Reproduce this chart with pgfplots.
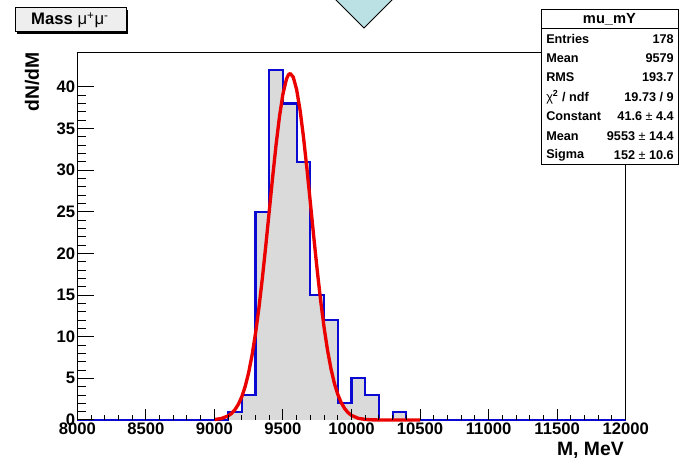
\documentclass[border=0pt]{standalone}
\usepackage{pgfplots}
\pgfplotsset{compat=1.18}
\usepackage{pgfplotstable}
\usepackage{fontspec}
\setmainfont{Liberation Sans}
\definecolor{histblue}{RGB}{10,10,210}
\definecolor{histfill}{RGB}{218,218,218}
\definecolor{fitred}{RGB}{235,0,0}
\definecolor{tri}{RGB}{187,225,229}
\definecolor{titlefill}{RGB}{238,238,238}

\pgfplotstableread{
x y
8000 0
9100 1
9200 3
9300 25
9400 42
9500 38
9600 31
9700 15
9800 12
9900 2
10000 5
10100 3
10200 0
10300 1
10400 0
12000 0
}\hist

\pgfplotstableread{
x y
9000 0.056
9050 0.174
9100 0.490
9125 0.790
9150 1.238
9175 1.889
9200 2.804
9225 4.056
9250 5.705
9275 7.812
9300 10.411
9325 13.505
9350 17.053
9375 20.955
9400 25.067
9425 29.181
9450 33.066
9475 36.468
9500 39.146
9525 40.900
9540 41.448
9553 41.600
9575 41.167
9600 39.658
9625 37.185
9650 33.936
9675 30.145
9700 26.062
9725 21.931
9750 17.961
9775 14.318
9800 11.110
9825 8.390
9850 6.166
9875 4.411
9900 3.072
9925 2.082
9950 1.374
9975 0.882
10000 0.551
10050 0.198
10100 0.064
10150 0.019
10200 0.005
10300 0.000
10500 0.000
}\fit

\pgfplotsset{
  myax/.style={
    at={(57.98pt,32.25pt)}, anchor=south west,
    scale only axis, width=411.3pt, height=275.5pt,
    xmin=8000, xmax=12000, ymin=0, ymax=44.1,
    scaled x ticks=false, scaled y ticks=false,
    tick align=inside,
    tick style={black, line width=0.75pt},
    /pgf/number format/assume math mode=true,
    /pgf/number format/1000 sep={},
    ticklabel style={font=\fontsize{12.5}{15}\selectfont\bfseries},
  }
}

\begin{document}
\begin{tikzpicture}
\path[use as bounding box] (0pt,0pt) rectangle (509.25pt,347.25pt);

% main data axis
\begin{axis}[myax, xtick=\empty, ytick=\empty,
  axis line style={black, line width=0.75pt}, clip=false]
  \addplot[const plot mark left, draw=histblue, line width=1.6pt, fill=histfill] table {\hist};
  \addplot[fitred, line width=2.5pt, line join=round, mark=none] table {\fit};
\end{axis}

% x ticks
\begin{axis}[myax, ytick=\empty, axis line style={draw=none},
  xtick={8000,8500,...,12000}, minor x tick num=4, xtick pos=left,
  major tick length=8.25pt, minor tick length=4.1pt,
  xticklabel style={inner sep=2pt}]
\end{axis}

% y ticks
\begin{axis}[myax, xtick=\empty, axis line style={draw=none},
  ytick={0,5,...,40}, minor y tick num=4, ytick pos=left,
  major tick length=12.4pt, minor tick length=6.2pt,
  yticklabel style={inner sep=1.5pt}]
\end{axis}

% axis titles
\node[rotate=90, anchor=east, inner sep=0pt, font=\fontsize{14.5}{17}\selectfont\bfseries] at (24pt,308.25pt) {dN/dM};
\node[anchor=north east, inner sep=0pt, font=\fontsize{14.5}{17}\selectfont\bfseries] at (468pt,15.5pt) {M, MeV};

% triangle at top
\fill[tri] (251.25pt,348pt) -- (273pt,326.25pt) -- (294.75pt,348pt) -- cycle;
\draw[black, line width=0.75pt] (251.25pt,348pt) -- (273pt,326.25pt) -- (294.75pt,348pt);

% title box
\fill[black] (12.75pt,321.75pt) rectangle (96pt,339.75pt);
\filldraw[fill=titlefill, draw=black, line width=0.75pt] (11.25pt,323.25pt) rectangle (94.5pt,341.25pt);
\node[inner sep=0pt, font=\fontsize{12.5}{15}\selectfont] at (52.5pt,332pt) {\bfseries Mass \mdseries μ\textsuperscript{+}μ\textsuperscript{-}};

% stats box
\filldraw[fill=white, draw=black, line width=0.75pt] (405.75pt,223.5pt) rectangle (508.5pt,339.75pt);
\draw[black, line width=0.75pt] (405.75pt,325.5pt) -- (508.5pt,325.5pt);
\node[inner sep=0pt, font=\fontsize{11}{13}\selectfont\bfseries] at (457.1pt,332.6pt) {mu\_mY};
\begin{scope}[every node/.style={inner sep=0pt, font=\fontsize{9.5}{11}\selectfont\bfseries}]
\node[anchor=west] at (409.5pt,318.2pt) {Entries};
\node[anchor=east] at (505.5pt,318.2pt) {178};
\node[anchor=west] at (409.5pt,303.7pt) {Mean};
\node[anchor=east] at (505.5pt,303.7pt) {9579};
\node[anchor=west] at (409.5pt,289.05pt) {RMS};
\node[anchor=east] at (505.5pt,289.05pt) {193.7};
\node[anchor=west] at (409.5pt,274.5pt) {{\mdseries χ}\textsuperscript{2} / ndf};
\node[anchor=east] at (505.5pt,274.5pt) {19.73 / 9};
\node[anchor=west] at (409.5pt,259.95pt) {Constant};
\node[anchor=east] at (505.5pt,259.95pt) {41.6 {\mdseries ±} 4.4};
\node[anchor=west] at (409.5pt,245.3pt) {Mean};
\node[anchor=east] at (505.5pt,245.3pt) {9553 {\mdseries ±} 14.4};
\node[anchor=west] at (409.5pt,230.8pt) {Sigma};
\node[anchor=east] at (505.5pt,230.8pt) {152 {\mdseries ±} 10.6};
\end{scope}
\end{tikzpicture}
\end{document}
